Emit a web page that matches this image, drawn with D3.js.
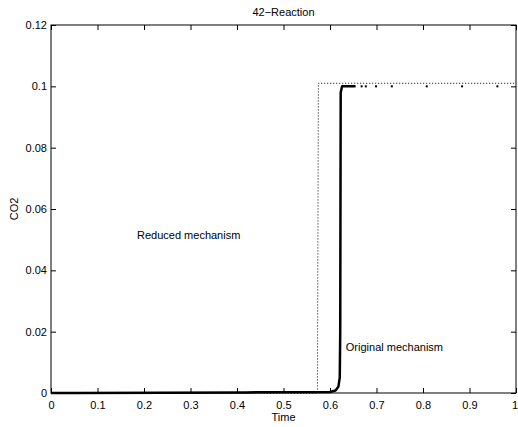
<!DOCTYPE html>
<html><head><meta charset="utf-8">
<script src="https://cdn.jsdelivr.net/npm/d3@7"></script>
<style>body{margin:0;background:#fff}svg text{font-family:"Liberation Sans",Arial,sans-serif;}</style>
</head><body>
<svg id="c" width="518" height="427"></svg>
<script>
const xTicks = [0,0.1,0.2,0.3,0.4,0.5,0.6,0.7,0.8,0.9,1];
const yTicks = [0,0.02,0.04,0.06,0.08,0.1,0.12];
const xTickLabels = ["0","0.1","0.2","0.3","0.4","0.5","0.6","0.7","0.8","0.9","1"];
const yTickLabels = ["0","0.02","0.04","0.06","0.08","0.1","0.12"];
const reducedTime = [0, 0.573, 0.575, 1];
const reducedCO2  = [0, 0, 0.101, 0.101];
const originalTime = [0, 0.06, 0.42, 0.6, 0.612, 0.618, 0.621, 0.622, 0.6225, 0.623, 0.626, 0.64, 0.655];
const originalCO2  = [0, 0, 0.0002, 0.0003, 0.0008, 0.002, 0.005, 0.02, 0.06, 0.098, 0.1, 0.1, 0.1];
const originalDotTime = [0.668, 0.677, 0.699, 0.733, 0.808, 0.884, 0.960];
const originalDotCO2  = [0.1, 0.1, 0.1, 0.1, 0.1, 0.1, 0.1];

const svg = d3.select("#c");
const L=51, R=516, T=25, B=393;
const x = d3.scaleLinear().domain([0,1]).range([L,R]);
const y = d3.scaleLinear().domain([0,0.12]).range([B,T]);

const g = svg.append("g");
g.append("rect").attr("x",L).attr("y",T).attr("width",R-L).attr("height",B-T)
 .attr("fill","none").attr("stroke","#000").attr("stroke-width",1);

const fs = "11px";
const xa = d3.axisBottom(x).tickValues(xTicks).tickFormat((d,i)=>xTickLabels[i]).tickSizeInner(-5).tickSizeOuter(0).tickPadding(10);
const gx = g.append("g").attr("transform",`translate(0,${B})`).call(xa);
const ya = d3.axisLeft(y).tickValues(yTicks).tickFormat((d,i)=>yTickLabels[i]).tickSizeInner(-5).tickSizeOuter(0).tickPadding(4);
const gy = g.append("g").attr("transform",`translate(${L},0)`).call(ya);
g.append("g").attr("transform",`translate(0,${T})`).call(d3.axisTop(x).tickValues(xTicks).tickFormat("").tickSizeInner(-5).tickSizeOuter(0));
g.append("g").attr("transform",`translate(${R},0)`).call(d3.axisRight(y).tickValues(yTicks).tickFormat("").tickSizeInner(-5).tickSizeOuter(0));
g.selectAll(".domain").remove();
g.selectAll(".tick line").attr("stroke","#000");
g.selectAll(".tick text").attr("font-size",fs).attr("fill","#000").attr("font-family","Liberation Sans, Arial, sans-serif");
gx.selectAll(".tick text").attr("dy","0.5em");
gx.selectAll(".tick text").filter(d=>d===1).attr("text-anchor","end").attr("dx","1.5");

const line = d3.line().x(d=>x(d[0])).y(d=>y(d[1]));
const red = reducedTime.map((t,i)=>[t,reducedCO2[i]]);
g.append("path").attr("d",line(red)).attr("fill","none").attr("stroke","#000")
 .attr("stroke-width",1).attr("stroke-dasharray","1,2");
const orig = originalTime.map((t,i)=>[t,originalCO2[i]]);
g.append("path").attr("d",line(orig)).attr("fill","none").attr("stroke","#000")
 .attr("stroke-width",2.5).attr("stroke-linejoin","round");
g.selectAll("rect.dot").data(originalDotTime.map((t,i)=>[t,originalDotCO2[i]])).enter()
 .append("rect").attr("class","dot").attr("x",d=>x(d[0])-1).attr("y",d=>y(d[1])-1)
 .attr("width",2).attr("height",2).attr("fill","#000");

svg.append("text").attr("x",(L+R)/2).attr("y",16).attr("text-anchor","middle").attr("font-size",fs).text("42\u2212Reaction");
svg.append("text").attr("x",(L+R)/2).attr("y",421).attr("text-anchor","middle").attr("font-size",fs).text("Time");
svg.append("text").attr("transform",`translate(18,${(T+B)/2}) rotate(-90)`).attr("text-anchor","middle").attr("font-size",fs).text("CO2");
svg.append("text").attr("x",x(0.185)).attr("y",y(0.0502)).attr("font-size",fs).text("Reduced mechanism");
svg.append("text").attr("x",x(0.634)).attr("y",y(0.0137)).attr("font-size",fs).text("Original mechanism");
</script>
</body></html>
